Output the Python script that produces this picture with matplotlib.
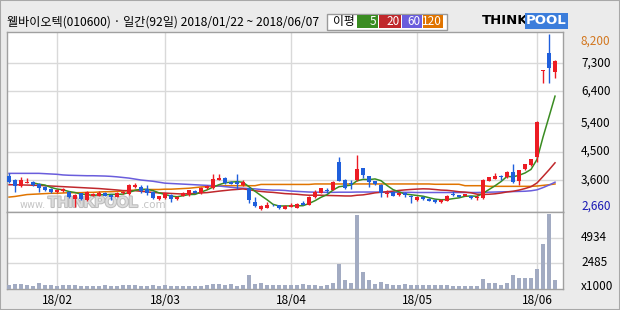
import numpy as np
import matplotlib
matplotlib.use("Agg")
import matplotlib.pyplot as plt
from matplotlib.patches import Rectangle
from matplotlib.transforms import blended_transform_factory
import matplotlib.patheffects as pe

plt.rcParams['font.family'] = ['Noto Sans CJK KR', 'DejaVu Sans']

title = "웰바이오텍(010600) · 일간(92일) 2018/01/22 ~ 2018/06/07"
month_pos = [8, 26, 47, 68, 88]
month_labels = ["18/02", "18/03", "18/04", "18/05", "18/06"]
price_grid = [3600, 4500, 5400, 6400, 7300]
price_max, price_min = 8200, 2660
vol_ticks = [2485, 4934]

opens = [3730, 3600, 3420, 3520, 3550, 3470, 3390, 3320, 3210, 3240,
         3230, 2990, 3180, 2970, 3100, 3110, 3180, 3135, 3070, 3190,
         3160, 3370, 3390, 3305, 3230, 2990, 3020, 3135, 3000, 3110,
         3126, 3260, 3180, 3360, 3340, 3600, 3670, 3545, 3545, 3440,
         3340, 2915, 2685, 2725, 2820, 2800, 2690, 2760, 2725, 2865,
         2810, 3050, 3200, 3270, 3284, 4170, 3600, 3490, 3600, 3970,
         3726, 3570, 3440, 3170, 3220, 3130, 3180, 3105, 2970, 3070,
         3010, 2970, 2915, 2945, 3160, 3120, 3095, 3095, 3030, 3020,
         3580, 3630, 3735, 3685, 3850, 3570, 3940, 4075, 4320, 7050,
         7600, 7020]
highs = [3810, 3620, 3680, 3650, 3570, 3500, 3420, 3350, 3310, 3350,
         3260, 3150, 3200, 3260, 3190, 3240, 3220, 3150, 3230, 3240,
         3470, 3495, 3440, 3440, 3250, 3110, 3200, 3150, 3090, 3230,
         3300, 3280, 3380, 3450, 3780, 3790, 3690, 3560, 3790, 3600,
         3360, 3070, 2800, 2915, 2840, 2820, 2810, 2860, 2860, 2936,
         3080, 3284, 3360, 3360, 3580, 4340, 3620, 3600, 4390, 3990,
         3740, 3580, 3460, 3284, 3240, 3200, 3230, 3120, 3090, 3080,
         3020, 2990, 2990, 3120, 3260, 3140, 3170, 3110, 3130, 3620,
         3705, 3830, 3760, 3880, 4105, 3930, 4120, 4270, 5460, 7070,
         8200, 7400]
lows = [3500, 3210, 3390, 3490, 3420, 3230, 3260, 3200, 3180, 3210,
        3040, 2740, 2970, 2940, 3080, 3100, 3080, 2970, 3050, 3170,
        3140, 3337, 3180, 3126, 3000, 2970, 3000, 2915, 2980, 3090,
        3110, 3180, 3160, 3330, 3320, 3590, 3480, 3460, 3305, 3420,
        2880, 2760, 2660, 2710, 2780, 2680, 2670, 2750, 2710, 2800,
        2800, 3030, 3180, 3180, 3270, 3560, 3305, 3305, 3580, 3650,
        3390, 3450, 3070, 3050, 3090, 3110, 3070, 2880, 2950, 2970,
        2930, 2880, 2860, 2930, 3110, 3050, 3080, 3000, 2970, 3000,
        3560, 3620, 3600, 3660, 3495, 3440, 3920, 4050, 4180, 6650,
        6656, 6815]
closes = [3550, 3420, 3600, 3540, 3440, 3340, 3280, 3230, 3280, 3320,
          3070, 3120, 2990, 3210, 3160, 3200, 3095, 3070, 3200, 3210,
          3450, 3440, 3240, 3180, 3020, 3095, 3180, 2990, 3070, 3180,
          3284, 3200, 3360, 3410, 3620, 3670, 3495, 3475, 3475, 3525,
          2970, 2780, 2790, 2820, 2800, 2700, 2790, 2800, 2840, 2810,
          3050, 3230, 3340, 3250, 3537, 3580, 3360, 3460, 3940, 3760,
          3546, 3465, 3180, 3190, 3105, 3180, 3130, 3070, 3070, 2990,
          2945, 2905, 2970, 3095, 3140, 3070, 3150, 3020, 3045, 3600,
          3685, 3735, 3685, 3860, 3546, 3916, 4105, 4250, 5440, 7070,
          7130, 7360]
# volume in thousands of shares
volume = [350, 420, 420, 320, 230, 510, 320, 320, 230, 320,
          320, 320, 230, 230, 230, 230, 320, 230, 230, 320,
          320, 320, 230, 230, 320, 230, 320, 230, 230, 230,
          230, 230, 230, 320, 420, 420, 320, 420, 230, 320,
          1280, 450, 550, 320, 320, 320, 320, 320, 320, 420,
          320, 320, 230, 320, 550, 2350, 800, 550, 7100, 1580,
          800, 420, 640, 420, 320, 320, 420, 320, 320, 320,
          320, 320, 320, 320, 230, 230, 230, 230, 230, 900,
          510, 510, 350, 510, 1280, 1060, 1000, 1000, 1860, 4270,
          7200, 800]
# 20-day average before enough days are on screen
ma20_head = [3450, 3450, 3445, 3440, 3435, 3430, 3420, 3410, 3400, 3390,
             3380, 3370, 3360, 3350, 3340, 3330, 3315, 3300, 3285]
ma60 = [3810, 3810, 3810, 3810, 3810, 3810, 3800, 3790, 3780, 3760,
        3750, 3745, 3740, 3735, 3735, 3730, 3725, 3715, 3700, 3680,
        3660, 3630, 3600, 3580, 3560, 3530, 3500, 3490, 3480, 3470,
        3460, 3450, 3440, 3430, 3420, 3410, 3390, 3370, 3350, 3340,
        3330, 3320, 3300, 3290, 3280, 3280, 3270, 3250, 3240, 3230,
        3220, 3215, 3215, 3210, 3210, 3215, 3215, 3215, 3220, 3220,
        3220, 3220, 3215, 3210, 3210, 3210, 3210, 3210, 3205, 3205,
        3205, 3205, 3205, 3205, 3205, 3205, 3205, 3205, 3205, 3210,
        3215, 3220, 3225, 3230, 3235, 3240, 3245, 3260, 3290, 3360,
        3440, 3530]
ma120 = [3060, 3080, 3110, 3140, 3150, 3160, 3170, 3180, 3180, 3190,
         3200, 3200, 3200, 3210, 3210, 3220, 3230, 3230, 3240, 3250,
         3270, 3280, 3290, 3300, 3300, 3300, 3310, 3310, 3320, 3330,
         3340, 3360, 3380, 3390, 3400, 3410, 3420, 3420, 3420, 3420,
         3420, 3420, 3460, 3460, 3460, 3460, 3460, 3460, 3460, 3460,
         3460, 3475, 3475, 3475, 3475, 3475, 3475, 3475, 3475, 3475,
         3475, 3475, 3475, 3475, 3475, 3475, 3475, 3475, 3475, 3475,
         3475, 3465, 3465, 3465, 3465, 3465, 3420, 3420, 3420, 3420,
         3400, 3400, 3400, 3400, 3400, 3400, 3400, 3400, 3410, 3430,
         3450, 3475]

RED = "#ec1c24"
BLUE = "#1f5fdc"
C5, C20, C60, C120 = "#3a8c22", "#c0282c", "#6a5ddc", "#e07400"

W, H = 620, 310


def box(l, t, r, b):
    return [l / W, 1 - b / H, (r - l) / W, (b - t) / H]


def fx(x):
    return x / W


def fy(y):
    return 1 - y / H


def moving_avg(vals, n):
    vals = np.asarray(vals, dtype=float)
    out = np.full(len(vals), np.nan)
    for i in range(n - 1, len(vals)):
        out[i] = vals[i - n + 1:i + 1].mean()
    return out


o = np.array(opens, float)
h = np.array(highs, float)
lo = np.array(lows, float)
c = np.array(closes, float)
x = np.arange(len(c))
ma5 = moving_avg(c, 5)
ma20 = moving_avg(c, 20)
ma20[:19] = ma20_head

fig = plt.figure(figsize=(6.2, 3.1), dpi=100, facecolor="#ebebeb")
ax = fig.add_axes(box(7, 32, 563, 212))
axv = fig.add_axes(box(7, 212, 563, 288.5), sharex=ax)

for a in (ax, axv):
    a.set_facecolor("white")
    for s in a.spines.values():
        s.set_color("#a0a0a0")
        s.set_linewidth(1)
    a.grid(True, color="#d9d9d9", linewidth=1)
    a.set_axisbelow(True)
    a.tick_params(length=0, labelleft=False)

ax.set_xlim(-0.33, 92.33)
ax.set_ylim(2589, 8277)
ax.set_yticks(price_grid)
ax.set_xticks(month_pos)
ax.tick_params(labelbottom=False)

# moving averages
ax.plot(x, ma120, color=C120, lw=1.1, zorder=2)
ax.plot(x, ma60, color=C60, lw=1.1, zorder=2)
ax.plot(x, ma20, color=C20, lw=1.1, zorder=2)
ax.plot(x, ma5, color=C5, lw=1.1, zorder=2)

# candles
up = c >= o
cols = np.where(up, RED, BLUE)
ax.vlines(x, lo, h, colors=cols, linewidth=1, zorder=3)
body = np.maximum(np.abs(c - o), 25)
ax.bar(x, body, bottom=np.minimum(o, c), width=0.72, color=cols,
       linewidth=0, zorder=4)

# watermark
ax.text(fx(20), fy(205), "www.", transform=fig.transFigure, fontsize=7,
        color="#c4c4c4", va="center", ha="left", zorder=1, family="DejaVu Sans")
ax.text(fx(48), fy(203), "THINKPOOL", transform=fig.transFigure, fontsize=11,
        fontweight="bold", color="#dcdcdc", va="center", ha="left", zorder=1,
        family="Liberation Sans",
        path_effects=[pe.withStroke(linewidth=1.5, foreground="#bdbdbd")])
ax.text(fx(141), fy(205), ".com", transform=fig.transFigure, fontsize=7.5,
        color="#c4c4c4", va="center", ha="left", zorder=1, family="DejaVu Sans")

# right-hand price labels
tr = blended_transform_factory(ax.transAxes, ax.transData)
lx = 1 + 18 / 556
for v in price_grid:
    ax.text(lx, v, f"{v:,}", transform=tr, fontsize=8.5, va="center", ha="left")
ax.text(lx, price_max, f"{price_max:,}", transform=tr, fontsize=8.5,
        va="top", ha="left", color="#d2761e")
ax.text(lx, price_min, f"{price_min:,}", transform=tr, fontsize=8.5,
        va="baseline", ha="left", color="#1a1ab4")

# volume
axv.bar(x, volume, width=0.72, color="#a2abc2", linewidth=0, zorder=3)
axv.set_ylim(0, 7401)
axv.set_yticks(vol_ticks)
axv.set_xticks(month_pos)
axv.set_xticklabels(month_labels, fontsize=8.5)
axv.tick_params(axis="x", pad=4)
trv = blended_transform_factory(axv.transAxes, axv.transData)
for v in vol_ticks:
    axv.text(lx, v, str(v), transform=trv, fontsize=8.5, va="center", ha="left")
axv.text(lx, 150, "x1000", transform=trv, fontsize=8.5, va="center", ha="left")

# header
fig.text(fx(7), fy(22), title, fontsize=8.7, va="center", ha="left")
fig.patches.append(Rectangle((fx(327), fy(29.5)), fx(120), 15.5 / H,
                             transform=fig.transFigure, facecolor="white",
                             edgecolor="#9a9a9a", linewidth=1))
fig.text(fx(333), fy(22), "이평", fontsize=8.5, va="center", ha="left")
legend = [("5", C5, 357, 378), ("20", C20, 379, 401),
          ("60", C60, 402, 422), ("120", C120, 423, 443)]
for lab, col, x0, x1 in legend:
    fig.patches.append(Rectangle((fx(x0), fy(27.5)), fx(x1 - x0), 12.5 / H,
                                 transform=fig.transFigure, facecolor=col,
                                 edgecolor="none"))
    fig.text(fx(x1 - 1.5), fy(21.8), lab, fontsize=8.5, color="white",
             va="center", ha="right")

# logo
fig.text(fx(482), fy(21), "THINK", fontsize=9.5, fontweight="bold",
         va="center", ha="left", family="DejaVu Sans")
fig.text(fx(526), fy(21), "POOL", fontsize=9.5, fontweight="bold", color="white",
         va="center", ha="left", family="DejaVu Sans",
         bbox=dict(boxstyle="square,pad=0.1", facecolor="#3b7ddb", edgecolor="none"))

fig.patches.append(Rectangle((0, 0), 1, 1, transform=fig.transFigure,
                             fill=False, edgecolor="#a8a8a8", linewidth=1.5))

fig.savefig("out.png", dpi=100, facecolor=fig.get_facecolor())
